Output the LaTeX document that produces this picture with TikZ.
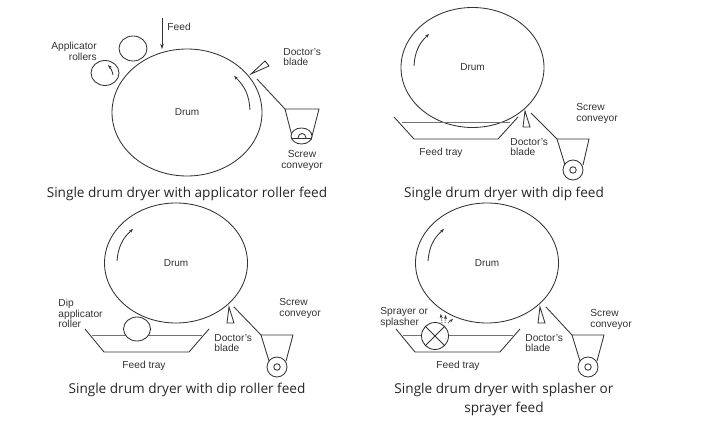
\documentclass[tikz,border=0pt]{standalone}
\usepackage{fontspec}
\setmainfont{Liberation Sans}
\newfontfamily\capfont{Open Sans}
\usetikzlibrary{%
  arrows,%
  arrows.meta,%
  shapes.geometric,% wg. ellipse
  positioning%
}
\tikzset{
  every path/.style = {line width=0.85pt, draw=black!80},
  drum/.style = {shape=ellipse, draw, inner sep=0pt, minimum width=143pt, minimum height=120pt, font=\fontsize{10}{12}\selectfont, text=black!80},
  roller/.style = {shape=ellipse, draw, fill=white, inner sep=0pt, minimum width=28pt, minimum height=25pt},
  screw/.style = {shape=circle, draw, fill=white, inner sep=0pt, minimum size=20pt},
  core/.style = {shape=circle, draw, inner sep=0pt, minimum size=6.5pt},
  lbl/.style = {align=left, inner sep=0pt, yshift=-1.2pt, text=black!80, font=\fontsize{10.2}{10.6}\selectfont},
  caption/.style = {align=center, inner sep=0pt, yshift=-1.8pt, text=black!85, font=\capfont\fontsize{13.6}{19}\selectfont},
  level/.style = {draw=black!55},
  turn/.style = {-{Stealth[length=4pt,width=3pt]}}
}
\begin{document}
\begin{tikzpicture}[x=1pt,y=-1pt]
  \path[draw=none,fill=white] (0,0) rectangle (720,430);

  % applicator roller feed
  \node[drum, minimum width=150pt, minimum height=127pt] (drumA) at (187,112.5) {Drum};
  \node[roller] (rollA) at (133,48.5) {};
  \node[roller] (rollB) at (105,73) {};
  \coordinate (feedA) at (162,18);
  \draw[-{Stealth[length=5pt,width=3.5pt]}] (feedA) -- (162,49);
  \node[lbl, right] (feedlbl) at (167,26) {Feed};
  \node[lbl, align=right] (applbl) at (74,50) {Applicator\\rollers};
  \draw[turn] (113,75) to[bend right=15] (108,65);
  \draw[turn] (250,110) to[bend right=22] (234,76);
  \draw (251,74) -- (265,61) -- (269,66) -- cycle;
  \node[lbl, right] (bladeA) at (283,56) {Doctor's\\blade};
  \draw (257,79) -- (285,109) -- (319,109) -- (311,140);
  \draw (285,109) -- (293,140);
  \node[shape=ellipse, draw, fill=white, inner sep=0pt, minimum width=21pt, minimum height=16pt] (screwA) at (301.5,136) {};
  \draw (291.5,138) -- (311.5,138);
  \draw (298,138) .. controls (298,132) and (306,132) .. (306,138);
  \node[lbl, align=center] (convA) at (302,159) {Screw\\conveyor};
  \node[caption] (capA) at (187,192) {Single drum dryer with applicator roller feed};

  % dip feed
  \node[drum] (drumB) at (472.5,67.5) {Drum};
  \draw[turn] (414,66) to[bend left=22] (429,34);
  \draw (394,117) -- (414,139) -- (498,139) -- (518,117);
  \draw[level] (402,122) -- (510,122);
  \draw (525,111) -- (523,127) -- (530,127) -- cycle;
  \draw (531,113) -- (557,139) -- (589,139) -- (583,165);
  \draw (557,139) -- (565,165);
  \node[screw] (screwB) at (573,170) {};
  \node[core] (coreB) at (573,170) {};
  \node[lbl, right] (convB) at (576,112) {Screw\\conveyor};
  \node[lbl, right] (bladeB) at (510,146) {Doctor's\\blade};
  \node[lbl] (trayB) at (441,152) {Feed tray};
  \node[caption] (capB) at (504,192) {Single drum dryer with dip feed};

  % dip roller feed
  \node[drum] (drumC) at (176,263) {Drum};
  \draw[turn] (117,261) to[bend left=22] (133,229);
  \draw (85,329) -- (104,352) -- (189,352) -- (209,329);
  \draw[level] (92,335) -- (202,335);
  \node[roller, minimum width=27pt, minimum height=24pt] (rollC) at (137,329) {};
  \draw (229,307) -- (227,323) -- (234,323) -- cycle;
  \draw (234,307) -- (261,335) -- (293,335) -- (286,361);
  \draw (261,335) -- (269,361);
  \node[screw] (screwC) at (277,367) {};
  \node[core] (coreC) at (277,367) {};
  \node[lbl, right] (convC) at (279,307.5) {Screw\\conveyor};
  \node[lbl, right] (bladeC) at (214,342) {Doctor's\\blade};
  \node[lbl, right] (dipC) at (58,312.5) {Dip\\applicator\\roller};
  \node[lbl] (trayC) at (144,365) {Feed tray};
  \node[caption] (capC) at (187,388) {Single drum dryer with dip roller feed};

  % splasher or sprayer feed
  \node[drum] (drumD) at (487,263) {Drum};
  \draw[turn] (428,261) to[bend left=22] (444,229);
  \draw (396,329) -- (415,352) -- (500,352) -- (520,329);
  \draw[level] (403,335) -- (513,335);
  \node[roller, minimum width=27pt, minimum height=27pt] (rollD) at (435,336) {};
  \draw (rollD.north west) -- (rollD.south east);
  \draw (rollD.north east) -- (rollD.south west);
  \draw[turn, densely dotted] (442,323) -- (440.7,314);
  \draw[turn, densely dotted] (445,323) -- (445.7,315);
  \draw[turn, densely dotted] (448,323) -- (453,319);
  \draw (540,307) -- (538,323) -- (545,323) -- cycle;
  \draw (546,307) -- (572,335) -- (604,335) -- (597,361);
  \draw (572,335) -- (580,361);
  \node[screw] (screwD) at (588,367) {};
  \node[core] (coreD) at (588,367) {};
  \node[lbl, right] (convD) at (590,318.5) {Screw\\conveyor};
  \node[lbl, right] (bladeD) at (525,342) {Doctor's\\blade};
  \node[lbl, right] (sprayer) at (380,316) {Sprayer or\\splasher};
  \node[lbl] (trayD) at (458,365) {Feed tray};
  \node[caption] (capD) at (504,397.5) {Single drum dryer with splasher or\\sprayer feed};
\end{tikzpicture}
\end{document}
